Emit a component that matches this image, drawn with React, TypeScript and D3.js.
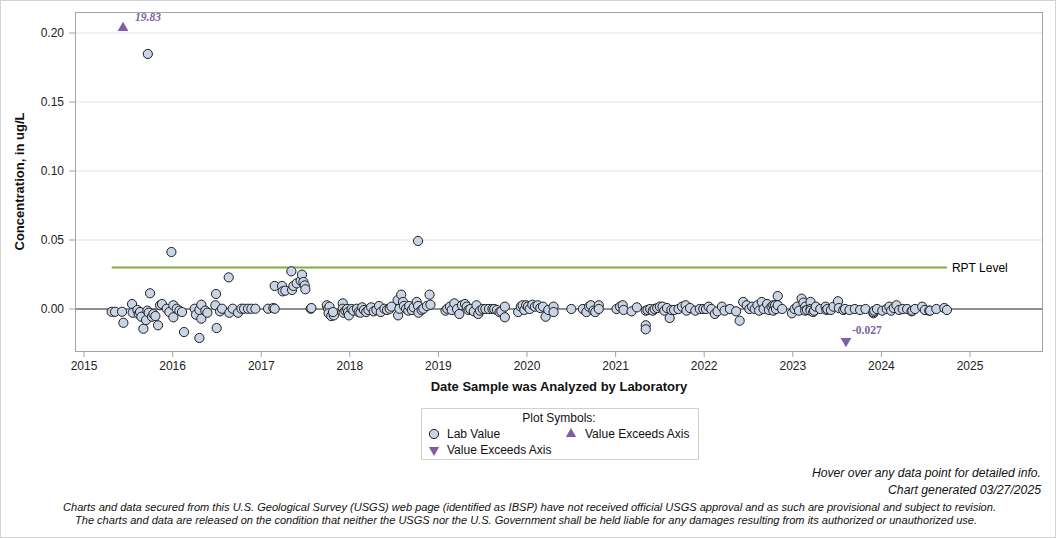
import React from "react";
import * as d3 from "d3";

// ---------- data ----------
// Lab values: [decimal year analyzed, concentration ug/L]
const labValues: [number, number][] = [
  [2015.312, -0.002], [2015.35, -0.002], [2015.429, -0.002], [2015.444, -0.01],
  [2015.542, 0.0036], [2015.549, -0.0027], [2015.602, -0.0007], [2015.617, -0.0036],
  [2015.632, -0.0022], [2015.647, -0.0056], [2015.67, -0.0143], [2015.7, -0.008],
  [2015.715, -0.0012], [2015.72, 0.1848], [2015.73, -0.0027], [2015.745, 0.0114],
  [2015.767, -0.0056], [2015.783, -0.0036], [2015.805, -0.0051], [2015.835, -0.0118],
  [2015.858, 0.0027], [2015.88, 0.0036], [2015.933, 0.0002], [2015.963, -0.0022],
  [2015.986, 0.0413], [2016.008, -0.006], [2016.008, 0.0027], [2016.046, 0.0002],
  [2016.076, -0.0012], [2016.106, -0.0022], [2016.129, -0.0167], [2016.249, 0.0002],
  [2016.264, -0.0041], [2016.302, -0.021], [2016.302, -0.0007], [2016.324, 0.0031],
  [2016.324, -0.007], [2016.369, -0.0012], [2016.392, -0.0027], [2016.482, 0.0027],
  [2016.49, 0.0109], [2016.497, -0.0138], [2016.535, -0.0017], [2016.558, 0.0002],
  [2016.633, 0.0229], [2016.64, -0.0027], [2016.678, 0.0002], [2016.738, -0.0027],
  [2016.776, 0.0002], [2016.806, 0.0002], [2016.851, 0.0002], [2016.889, 0.0002],
  [2016.934, 0.0002], [2017.077, 0.0002], [2017.137, 0.0007], [2017.152, 0.0002],
  [2017.152, 0.0167], [2017.235, 0.0167], [2017.242, 0.0128], [2017.272, 0.0133],
  [2017.34, 0.0273], [2017.348, 0.0138], [2017.363, 0.0167], [2017.4, 0.0186],
  [2017.445, 0.0205], [2017.46, 0.0249], [2017.476, 0.0196], [2017.491, 0.0171],
  [2017.498, 0.0143], [2017.558, 0.0002], [2017.566, 0.0007],
  [2017.74, 0.0027], [2017.755, 0.0002], [2017.77, 0.0017], [2017.76, -0.0031],
  [2017.79, -0.0051], [2017.82, -0.0046], [2017.81, -0.0022], [2017.92, 0.0041],
  [2017.92, 0.0002], [2017.93, -0.0027], [2017.95, -0.0012], [2017.97, 0.0],
  [2017.98, -0.0022], [2017.99, -0.0046], [2018.02, 0.0], [2018.04, -0.0012],
  [2018.08, 0.0002], [2018.1, -0.0022], [2018.12, -0.0027], [2018.14, 0.0012],
  [2018.16, -0.0007], [2018.185, -0.0022], [2018.21, -0.0007], [2018.24, 0.0012],
  [2018.27, -0.0017], [2018.3, -0.0007], [2018.33, 0.0022], [2018.35, -0.0022],
  [2018.39, 0.0002], [2018.42, -0.0007], [2018.45, 0.0002], [2018.47, 0.0017],
  [2018.54, 0.0065], [2018.545, -0.0046], [2018.56, 0.0002], [2018.58, 0.0104],
  [2018.6, 0.0051], [2018.61, 0.0022], [2018.635, 0.0002], [2018.66, -0.0012],
  [2018.67, 0.0022], [2018.7, -0.0007], [2018.72, 0.0012], [2018.755, 0.0051],
  [2018.77, 0.0493], [2018.77, 0.0022], [2018.775, -0.0027], [2018.81, -0.0007],
  [2018.83, 0.0002], [2018.87, 0.0022], [2018.9, 0.0104], [2018.91, 0.0031],
  [2019.08, -0.0012], [2019.1, 0.0002], [2019.13, 0.0017], [2019.15, -0.0007],
  [2019.18, 0.0041], [2019.21, 0.0], [2019.236, -0.0036], [2019.266, 0.0027],
  [2019.3, 0.0036], [2019.32, 0.0017], [2019.34, -0.0007], [2019.36, 0.0],
  [2019.4, -0.0017], [2019.43, 0.0027], [2019.45, -0.0036], [2019.47, -0.0012],
  [2019.5, 0.0], [2019.53, 0.0], [2019.57, 0.0], [2019.61, 0.0],
  [2019.63, 0.0], [2019.66, -0.0007], [2019.69, -0.0022], [2019.71, -0.0017],
  [2019.75, 0.0017], [2019.75, -0.006], [2019.9, -0.0022], [2019.93, 0.0017],
  [2019.95, 0.0027], [2019.97, -0.0007], [2019.99, 0.0027], [2020.01, 0.0017],
  [2020.03, 0.0], [2020.06, 0.0031], [2020.09, 0.0017], [2020.12, 0.0027],
  [2020.15, 0.0007], [2020.18, 0.0017], [2020.21, -0.0056], [2020.24, -0.0007],
  [2020.3, 0.0017], [2020.3, -0.0022], [2020.5, 0.0], [2020.63, 0.0],
  [2020.67, -0.0022], [2020.7, 0.0017], [2020.72, 0.0027], [2020.75, -0.0012],
  [2020.77, -0.0022], [2020.81, 0.0027], [2020.81, 0.0], [2021.01, 0.0],
  [2021.05, 0.0017], [2021.08, 0.0027], [2021.09, -0.0007], [2021.18, -0.0017],
  [2021.24, 0.0012], [2021.34, -0.0012], [2021.34, -0.0118], [2021.34, -0.0147],
  [2021.36, -0.0007], [2021.39, 0.0], [2021.42, -0.0012], [2021.44, 0.0],
  [2021.47, 0.0007], [2021.5, 0.0017], [2021.53, 0.0017], [2021.55, -0.0012],
  [2021.58, 0.0007], [2021.61, -0.0065], [2021.63, -0.0007], [2021.66, -0.0007],
  [2021.71, 0.0], [2021.75, 0.0017], [2021.79, 0.0027], [2021.8, -0.0012],
  [2021.84, 0.0007], [2021.9, -0.0012], [2021.95, 0.0], [2021.99, 0.0],
  [2022.02, 0.0], [2022.05, 0.0017], [2022.08, 0.0], [2022.12, -0.0036],
  [2022.15, -0.0017], [2022.2, 0.0017], [2022.23, -0.0012], [2022.29, 0.0],
  [2022.36, -0.0017], [2022.4, -0.0085],
  [2022.44, 0.0051], [2022.48, 0.0027], [2022.51, 0.0], [2022.54, 0.0017],
  [2022.57, 0.0], [2022.6, 0.0027], [2022.62, -0.0012], [2022.65, 0.0051],
  [2022.67, 0.0], [2022.71, 0.0036], [2022.73, -0.0007], [2022.76, 0.0017],
  [2022.78, 0.0027], [2022.78, -0.0012], [2022.8, 0.0027], [2022.81, 0.0],
  [2022.83, 0.0094], [2022.83, 0.0027], [2022.88, 0.0], [2022.99, -0.0031],
  [2023.02, 0.0], [2023.05, 0.0017], [2023.07, -0.0012], [2023.1, 0.0075],
  [2023.12, 0.0046], [2023.14, 0.0017], [2023.14, -0.0012], [2023.16, -0.0007],
  [2023.2, 0.0051], [2023.2, 0.0], [2023.2, -0.0012], [2023.23, -0.0022],
  [2023.24, -0.0012], [2023.26, 0.0017], [2023.31, 0.0], [2023.37, 0.0017],
  [2023.38, -0.0007], [2023.39, 0.0], [2023.43, -0.0007], [2023.46, 0.0017],
  [2023.51, 0.0056], [2023.52, 0.0007], [2023.57, -0.0007], [2023.59, 0.0],
  [2023.64, -0.0007], [2023.7, 0.0], [2023.76, -0.0007], [2023.82, 0.0],
  [2023.91, -0.0031], [2023.91, -0.0022], [2023.92, -0.0012], [2023.95, 0.0],
  [2024.01, -0.0012], [2024.06, 0.0], [2024.09, 0.0017], [2024.11, -0.0012],
  [2024.14, 0.0007], [2024.17, 0.0027], [2024.2, -0.0007], [2024.24, 0.0],
  [2024.29, 0.0], [2024.34, -0.0017], [2024.35, -0.0012], [2024.38, 0.0],
  [2024.46, 0.0017], [2024.49, -0.0007], [2024.54, -0.0012], [2024.55, -0.0012],
  [2024.62, 0.0], [2024.71, 0.0007], [2024.74, -0.0007],
];

// values beyond the axis: [decimal year, actual value]
const exceedsHigh: [number, number][] = [[2015.44, 19.83]];
const exceedsLow: [number, number][] = [[2023.6, -0.027]];

const rptLevel = 0.03;
const xTickYears = [2015, 2016, 2017, 2018, 2019, 2020, 2021, 2022, 2023, 2024, 2025];
const yTickValues = [0, 0.05, 0.1, 0.15, 0.2];

const disclaimer = [
  "Charts and data secured from this U.S. Geological Survey (USGS) web page (identified as IBSP) have not received official USGS approval and as such are provisional and subject to revision.",
  "The charts and data are released on the condition that neither the USGS nor the U.S. Government shall be held liable for any damages resulting from its authorized or unauthorized use.",
];

// ---------- layout ----------
const W = 1056;
const H = 538;
const plot = { left: 75, top: 12, right: 1043, bottom: 351 };
const FONT = "Arial, 'Liberation Sans', sans-serif";
const SERIF = "'Liberation Serif', 'DejaVu Serif', serif";
const PURPLE = "#7d5fa6";
const POINT_FILL = "#c9d5e6";
const R = 4.6;

export default function App() {
  const x = d3.scaleLinear().domain([2014.898, 2025.824]).range([plot.left, plot.right]);
  const y = d3.scaleLinear().domain([-0.03043, 0.21522]).range([plot.bottom, plot.top]);

  const tri = d3.symbol().type(d3.symbolTriangle).size(50)()!;
  const triSmall = d3.symbol().type(d3.symbolTriangle).size(46)()!;

  const yearExtent = d3.extent(labValues, (d) => d[0]) as [number, number];
  const fmtY = d3.format(".2f");

  return (
    <svg
      width={W}
      height={H}
      style={{ position: "absolute", left: 0, top: 0, display: "block", background: "#fff" }}
      fontFamily={FONT}
    >
      <rect x={0.5} y={0.5} width={W - 1} height={H - 1} fill="#fff" stroke="#d3d3d3" />

      {/* gridlines */}
      {yTickValues.filter((v) => v !== 0).map((v) => (
        <line key={"g" + v} x1={plot.left} x2={plot.right} y1={y(v)} y2={y(v)} stroke="#e3e3e3" strokeWidth={1} />
      ))}

      {/* zero line */}
      <line x1={plot.left} x2={plot.right} y1={y(0)} y2={y(0)} stroke="#8f8f8f" strokeWidth={2} />

      {/* RPT level */}
      <line x1={x(yearExtent[0])} x2={x(yearExtent[1])} y1={y(rptLevel)} y2={y(rptLevel)} stroke="#8aaa3f" strokeWidth={2} />
      <text x={x(yearExtent[1]) + 5} y={y(rptLevel)} dy="0.35em" fontSize={12} fill="#000">RPT Level</text>

      {/* plot frame */}
      <rect
        x={plot.left + 0.5}
        y={plot.top + 0.5}
        width={plot.right - plot.left - 1}
        height={plot.bottom - plot.top}
        fill="none"
        stroke="#a3a3a3"
      />

      {/* y axis */}
      {yTickValues.map((v) => (
        <g key={"y" + v}>
          <line x1={plot.left - 6} x2={plot.left} y1={y(v)} y2={y(v)} stroke="#a3a3a3" />
          <text x={plot.left - 11} y={y(v)} dy="0.35em" textAnchor="end" fontSize={12} fill="#222">
            {fmtY(v)}
          </text>
        </g>
      ))}
      <text
        transform={`translate(24,${(plot.top + plot.bottom) / 2}) rotate(-90)`}
        textAnchor="middle"
        fontSize={13}
        fontWeight="bold"
        fill="#111"
      >
        Concentration, in ug/L
      </text>

      {/* x axis */}
      {xTickYears.map((yr) => (
        <g key={"x" + yr}>
          <line x1={x(yr)} x2={x(yr)} y1={plot.bottom} y2={plot.bottom + 6} stroke="#a3a3a3" />
          <text x={x(yr)} y={plot.bottom + 19} textAnchor="middle" fontSize={12} fill="#222">
            {yr}
          </text>
        </g>
      ))}
      <text x={(plot.left + plot.right) / 2} y={391} textAnchor="middle" fontSize={13} fontWeight="bold" fill="#111">
        Date Sample was Analyzed by Laboratory
      </text>

      {/* lab values */}
      {labValues.map((d, i) => (
        <circle key={i} cx={x(d[0])} cy={y(d[1])} r={R} fill={POINT_FILL} stroke="#1e1e1e" strokeWidth={1} />
      ))}

      {/* exceeds axis markers */}
      {exceedsHigh.map((d, i) => (
        <g key={"h" + i}>
          <path d={tri} transform={`translate(${x(d[0])},${y.range()[1] + 16})`} fill={PURPLE} />
          <text
            x={x(d[0]) + 12}
            y={y.range()[1] + 9}
            fontSize={11.5}
            fontWeight="bold"
            fontStyle="italic"
            fontFamily={SERIF}
            fill={PURPLE}
          >
            {d[1].toFixed(2)}
          </text>
        </g>
      ))}
      {exceedsLow.map((d, i) => (
        <g key={"l" + i}>
          <path d={tri} transform={`translate(${x(d[0])},${y.range()[0] - 10}) rotate(180)`} fill={PURPLE} />
          <text
            x={x(d[0]) + 6}
            y={y.range()[0] - 17}
            fontSize={11.5}
            fontWeight="bold"
            fontFamily={SERIF}
            fill={PURPLE}
          >
            {d[1].toFixed(3)}
          </text>
        </g>
      ))}

      {/* legend */}
      <g>
        <rect x={421.5} y={408.5} width={277} height={51} fill="#fff" stroke="#cfcfcf" />
        <text x={559} y={422} textAnchor="middle" fontSize={12} fill="#111">Plot Symbols:</text>
        <circle cx={434} cy={434} r={R} fill={POINT_FILL} stroke="#1e1e1e" />
        <text x={447} y={438} fontSize={12} fill="#111">Lab Value</text>
        <path d={triSmall} transform="translate(571,434)" fill={PURPLE} />
        <text x={585} y={438} fontSize={12} fill="#111">Value Exceeds Axis</text>
        <path d={triSmall} transform="translate(434,450) rotate(180)" fill={PURPLE} />
        <text x={447} y={454} fontSize={12} fill="#111">Value Exceeds Axis</text>
      </g>

      {/* footer */}
      <text x={1041} y={477} textAnchor="end" fontSize={12} fontStyle="italic" fill="#111" textLength={229} lengthAdjust="spacingAndGlyphs">
        Hover over any data point for detailed info.
      </text>
      <text x={1041} y={494} textAnchor="end" fontSize={12} fontStyle="italic" fill="#111" textLength={153} lengthAdjust="spacingAndGlyphs">
        Chart generated 03/27/2025
      </text>
      <text x={63} y={511} fontSize={11} fontStyle="italic" fill="#111" textLength={933} lengthAdjust="spacingAndGlyphs">
        {disclaimer[0]}
      </text>
      <text x={75} y={524} fontSize={11} fontStyle="italic" fill="#111" textLength={902} lengthAdjust="spacingAndGlyphs">
        {disclaimer[1]}
      </text>
    </svg>
  );
}
